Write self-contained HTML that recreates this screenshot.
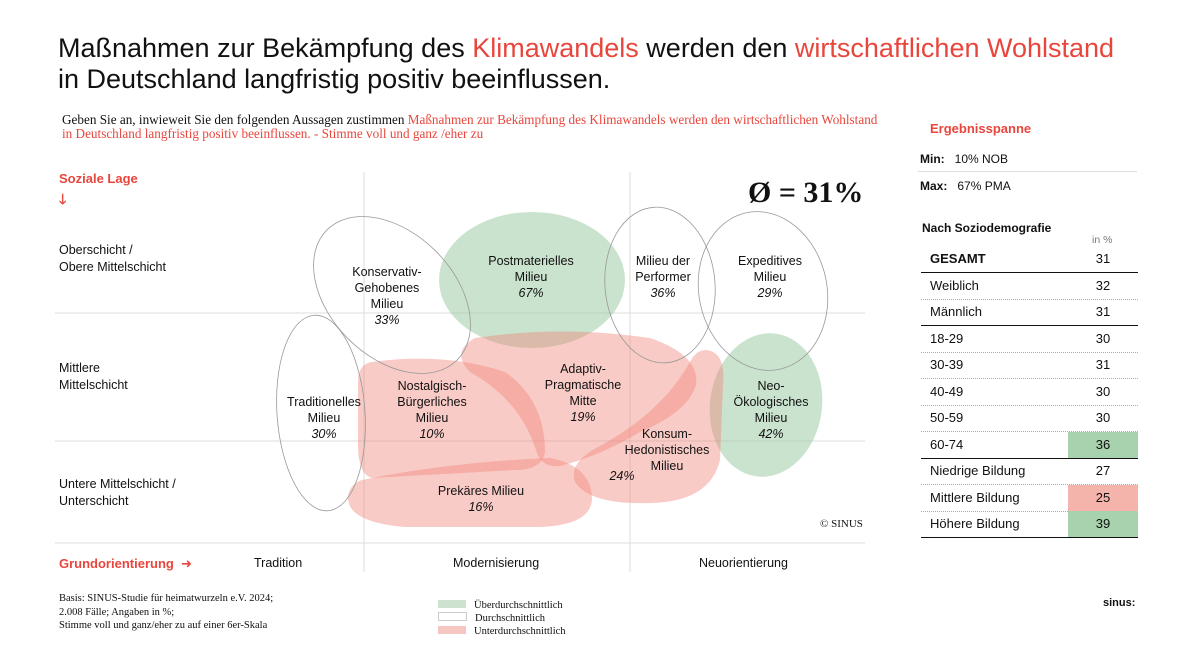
<!DOCTYPE html>
<html><head><meta charset="utf-8">
<style>
body{margin:0;width:1194px;height:669px;background:#fff;font-family:"Liberation Sans","DejaVu Sans",sans-serif;color:#111;position:relative;overflow:hidden}
.a{position:absolute;white-space:nowrap}
.r{color:#e8463d}
.serif{font-family:"Liberation Serif",serif}
</style></head><body>
<div class="a" style="left:58px;top:33px;font-size:27px;line-height:31px;">Maßnahmen zur Bekämpfung des <span class="r">Klimawandels</span> werden den <span class="r">wirtschaftlichen Wohlstand</span><br>in Deutschland langfristig positiv beeinflussen.</div>
<div class="a serif" style="left:62px;top:113px;font-size:13.2px;line-height:14px;">Geben Sie an, inwieweit Sie den folgenden Aussagen zustimmen <span class="r">Maßnahmen zur Bekämpfung des Klimawandels werden den wirtschaftlichen Wohlstand</span><br><span class="r">in Deutschland langfristig positiv beeinflussen. - Stimme voll und ganz /eher zu</span></div>

<svg class="a" style="left:0;top:0" width="1194" height="669">
<g stroke="#ddd" stroke-width="1">
<line x1="364" y1="172" x2="364" y2="572"/><line x1="630" y1="172" x2="630" y2="572"/>
<line x1="55" y1="313" x2="865" y2="313"/><line x1="55" y1="441" x2="865" y2="441"/>
<line x1="55" y1="543" x2="865" y2="543"/>
</g>
<g id="shapes"></g>
<g id="labels" font-size="12.5" text-anchor="middle" fill="#111"></g>
</svg>

<div class="a r" style="left:59px;top:171px;font-size:13px;font-weight:bold;">Soziale Lage</div>
<div class="a r" style="left:59px;top:189px;font-size:14px;font-weight:bold;">🡓</div>
<div class="a" style="left:59px;top:242px;font-size:12.5px;line-height:17px;">Oberschicht /<br>Obere Mittelschicht</div>
<div class="a" style="left:59px;top:360px;font-size:12.5px;line-height:17px;">Mittlere<br>Mittelschicht</div>
<div class="a" style="left:59px;top:476px;font-size:12.5px;line-height:17px;">Untere Mittelschicht /<br>Unterschicht</div>
<div class="a r" style="left:59px;top:556px;font-size:13px;font-weight:bold;">Grundorientierung &nbsp;➜</div>
<div class="a" style="left:254px;top:556px;font-size:12.5px;">Tradition</div>
<div class="a" style="left:453px;top:556px;font-size:12.5px;">Modernisierung</div>
<div class="a" style="left:699px;top:556px;font-size:12.5px;">Neuorientierung</div>
<div class="a serif" style="left:748px;top:176px;font-size:30px;font-weight:bold;">Ø = 31%</div>
<div class="a serif" style="left:820px;top:518px;font-size:11px;">© SINUS</div>

<div class="a serif" style="left:59px;top:592px;font-size:10.5px;line-height:13.5px;">Basis: SINUS-Studie für heimatwurzeln e.V. 2024;<br>2.008 Fälle; Angaben in %;<br>Stimme voll und ganz/eher zu auf einer 6er-Skala</div>
<div class="a" style="left:438px;top:599px;font-size:10.5px;font-family:'Liberation Serif',serif;line-height:13px;">
<div><span style="display:inline-block;width:28px;height:8px;background:#cde3d0;margin-right:8px"></span>Überdurchschnittlich</div>
<div><span style="display:inline-block;width:27px;height:7px;border:1px solid #ccc;margin-right:8px"></span>Durchschnittlich</div>
<div><span style="display:inline-block;width:28px;height:8px;background:#f6c6c2;margin-right:8px"></span>Unterdurchschnittlich</div>
</div>
<div class="a" style="left:1103px;top:597px;font-size:11px;font-weight:bold;">sinus:</div>

<div class="a r" style="left:930px;top:121px;font-size:13px;font-weight:bold;">Ergebnisspanne</div>
<div class="a" style="left:920px;top:152px;font-size:12px;"><b>Min:</b>&nbsp;&nbsp;&nbsp;10% NOB</div>
<div style="position:absolute;left:918px;top:171px;width:219px;height:1px;background:#ddd"></div>
<div class="a" style="left:920px;top:179px;font-size:12px;"><b>Max:</b>&nbsp;&nbsp;&nbsp;67% PMA</div>
<div class="a" style="left:922px;top:221px;font-size:12px;font-weight:bold;">Nach Soziodemografie</div>
<div class="a" style="left:1092px;top:234px;font-size:10.5px;color:#777;">in %</div>
<div id="table"></div>

<script>
// milieu data
const milieuNames=["Konservativ-Gehobenes Milieu","Postmaterielles Milieu","Milieu der Performer","Expeditives Milieu","Traditionelles Milieu","Nostalgisch-Bürgerliches Milieu","Adaptiv-Pragmatische Mitte","Neo-Ökologisches Milieu","Konsum-Hedonistisches Milieu","Prekäres Milieu"];
const milieuValues=[33,67,36,29,30,10,19,42,24,16];
const average=31;

const shapes=[
 {t:"e",cx:392,cy:295,rx:92,ry:62,rot:45},
 {t:"e",cx:532,cy:280,rx:93,ry:68,rot:0},
 {t:"e",cx:660,cy:285,rx:55,ry:78,rot:-5},
 {t:"e",cx:763,cy:291,rx:64,ry:80,rot:-12},
 {t:"e",cx:321,cy:413,rx:44,ry:98,rot:-4},
 {t:"p",d:"M372 362 Q445 352 505 372 Q545 400 545 452 Q542 470 515 470 L372 478 Q358 474 358 445 L358 382 Q358 364 372 362 Z"},
 {t:"p",d:"M475 338 Q560 325 650 338 Q700 355 696 385 Q688 412 640 432 Q600 456 560 466 Q541 468 536 450 Q520 400 470 372 Q450 352 475 338 Z"},
 {t:"e",cx:766,cy:405,rx:56,ry:72,rot:8},
 {t:"p",d:"M706 350 Q726 352 723 385 L720 460 Q710 502 650 503 Q590 505 575 482 Q568 462 600 446 Q662 412 690 362 Q696 350 706 350 Z"},
 {t:"p",d:"M362 480 Q450 462 550 458 Q592 466 592 500 Q590 525 540 527 L405 527 Q346 522 348 496 Q350 484 362 480 Z"}
];
const labels=[
 {x:387,y:276,l:["Konservativ-","Gehobenes","Milieu"]},
 {x:531,y:265,l:["Postmaterielles","Milieu"]},
 {x:663,y:265,l:["Milieu der","Performer"]},
 {x:770,y:265,l:["Expeditives","Milieu"]},
 {x:324,y:406,l:["Traditionelles","Milieu"]},
 {x:432,y:390,l:["Nostalgisch-","Bürgerliches","Milieu"]},
 {x:583,y:373,l:["Adaptiv-","Pragmatische","Mitte"]},
 {x:771,y:390,l:["Neo-","Ökologisches","Milieu"]},
 {x:667,y:438,l:["Konsum-","Hedonistisches","Milieu"],px:622,py:480},
 {x:481,y:495,l:["Prekäres Milieu"]}
];
const NS="http://www.w3.org/2000/svg";
const sg=document.getElementById("shapes"), lg=document.getElementById("labels");
function fillFor(v){return v>=40?"rgba(150,200,158,0.5)":(v<=25?"rgba(240,130,120,0.42)":"none");}
const order=[1,7,5,6,8,9,0,2,3,4];
order.forEach(i=>{
 const s=shapes[i],v=milieuValues[i];
 let el;
 if(s.t==="e"){el=document.createElementNS(NS,"ellipse");el.setAttribute("cx",s.cx);el.setAttribute("cy",s.cy);el.setAttribute("rx",s.rx);el.setAttribute("ry",s.ry);el.setAttribute("transform",`rotate(${s.rot} ${s.cx} ${s.cy})`);}
 else{el=document.createElementNS(NS,"path");el.setAttribute("d",s.d);}
 const f=fillFor(v);
 el.setAttribute("fill",f);
 if(f==="none"){el.setAttribute("stroke","#999");el.setAttribute("stroke-width","0.8");}
 
 
 sg.appendChild(el);
});
labels.forEach((L,i)=>{
 L.l.forEach((t,j)=>{
  const tx=document.createElementNS(NS,"text");
  tx.setAttribute("x",L.x);tx.setAttribute("y",L.y+j*16);tx.textContent=t;
  
  
  lg.appendChild(tx);
 });
 const p=document.createElementNS(NS,"text");
 p.setAttribute("x",L.px||L.x);p.setAttribute("y",L.py||(L.y+L.l.length*16));
 p.setAttribute("font-style","italic");p.textContent=milieuValues[i]+"%";
 
 
 lg.appendChild(p);
});

// table data
const rowLabels=["GESAMT","Weiblich","Männlich","18-29","30-39","40-49","50-59","60-74","Niedrige Bildung","Mittlere Bildung","Höhere Bildung"];
const rowValues=[31,32,31,30,31,30,30,36,27,25,39];
const solidAfter=[0,2,7,10];
const tb=document.getElementById("table");
rowLabels.forEach((lab,i)=>{
 const top=246+i*26.5;
 const v=rowValues[i];
 const row=document.createElement("div");
 
 
 const bg=i===0?"none":(v>=36?"#a8d1ad":(v<=25?"#f4b3ab":"none"));
 const border=solidAfter.includes(i)?"1.5px solid #111":"1px dotted #aaa";
 row.style.cssText=`position:absolute;left:921px;top:${top}px;width:217px;height:26px;border-bottom:${border};font-size:13px;line-height:26px;`;
 row.innerHTML=`<span style="position:absolute;left:9px;${i===0?'font-weight:bold':''}">${lab}</span><span style="position:absolute;left:147px;width:70px;height:26px;text-align:center;background:${bg}">${v}</span>`;
 tb.appendChild(row);
});
</script>
</body></html>
